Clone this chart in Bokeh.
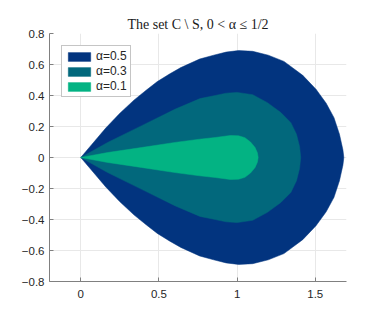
from bokeh.plotting import figure
from bokeh.models import Range1d, FixedTicker
from bokeh.embed import file_html
from bokeh.resources import INLINE

# Upper boundaries (x, y) of each region; the regions are symmetric about y=0
x_a05 = [0.0, 0.08, 0.16, 0.25, 0.34, 0.42, 0.49, 0.57, 0.64, 0.76, 0.85, 0.93, 1.01, 1.10, 1.20, 1.30, 1.42, 1.505, 1.57, 1.62, 1.655, 1.677, 1.683]
y_a05 = [0.0, 0.095, 0.19, 0.285, 0.37, 0.435, 0.49, 0.54, 0.58, 0.635, 0.66, 0.68, 0.69, 0.685, 0.66, 0.62, 0.53, 0.44, 0.35, 0.257, 0.15, 0.05, 0.0]

x_a03 = [0.0, 0.172, 0.387, 0.602, 0.763, 0.86, 0.93, 1.0, 1.10, 1.194, 1.28, 1.344, 1.38, 1.40, 1.407]
y_a03 = [0.0, 0.097, 0.204, 0.311, 0.38, 0.40, 0.415, 0.42, 0.405, 0.354, 0.29, 0.225, 0.15, 0.07, 0.0]

x_a01 = [0.0, 0.172, 0.387, 0.602, 0.76, 0.86, 0.957, 1.01, 1.05, 1.086, 1.115, 1.13, 1.135]
y_a01 = [0.0, 0.032, 0.064, 0.097, 0.118, 0.129, 0.142, 0.14, 0.128, 0.10, 0.065, 0.03, 0.0]

labels = ["\u03b1=0.5", "\u03b1=0.3", "\u03b1=0.1"]
colors = ["#02347F", "#02687C", "#03B383"]

x_ticks = [0, 0.5, 1, 1.5]
y_ticks = [-0.8, -0.6, -0.4, -0.2, 0, 0.2, 0.4, 0.6, 0.8]


def closed(xu, yu):
    xs = list(xu) + list(reversed(xu))
    ys = list(yu) + [-v for v in reversed(yu)]
    return xs, ys


p = figure(width=374, height=316, output_backend="svg", toolbar_location=None,
           x_range=Range1d(-0.2, 1.7), y_range=Range1d(-0.8, 0.8),
           min_border_left=49, min_border_right=28, min_border_top=33, min_border_bottom=35)

for (xu, yu), lab, col in zip([(x_a05, y_a05), (x_a03, y_a03), (x_a01, y_a01)], labels, colors):
    xs, ys = closed(xu, yu)
    p.patch(xs, ys, fill_color=col, line_color=col, line_width=0.5, legend_label=lab)

p.title.text = "The set C \\ S, 0 < \u03b1 \u2264 1/2"
p.title.text_font = "Liberation Serif"
p.title.text_font_style = "normal"
p.title.text_font_size = "14px"
p.title.align = "center"
p.title.text_color = "#1a1a1a"
p.title.standoff = 4

p.outline_line_color = None
p.background_fill_color = "white"

for ax in (p.xaxis, p.yaxis):
    ax.axis_line_color = "#808080"
    ax.major_tick_line_color = "#808080"
    ax.major_tick_in = 4
    ax.major_tick_out = 0
    ax.minor_tick_line_color = None
    ax.major_label_text_font = "Liberation Sans"
    ax.major_label_text_font_size = "11.5px"
    ax.major_label_text_color = "#262626"

p.xaxis.ticker = FixedTicker(ticks=x_ticks)
p.yaxis.ticker = FixedTicker(ticks=y_ticks)
p.xaxis.major_label_standoff = 8
p.yaxis.major_label_standoff = 5

p.xgrid.ticker = FixedTicker(ticks=x_ticks)
p.ygrid.ticker = FixedTicker(ticks=y_ticks)
p.grid.grid_line_color = "#e8e8e8"
p.grid.grid_line_width = 1

lg = p.legend[0]
lg.location = "top_left"
lg.margin = 12
lg.padding = 3
lg.spacing = 1
lg.glyph_width = 28
lg.glyph_height = 11
lg.label_standoff = 3
lg.label_height = 11
lg.label_text_font = "Liberation Sans"
lg.label_text_font_size = "12px"
lg.label_text_line_height = 1.0
lg.label_text_color = "#262626"
lg.border_line_color = "#8c8c8c"
lg.border_line_width = 1
lg.background_fill_alpha = 1.0

open("out.html", "w").write(file_html(p, INLINE))
